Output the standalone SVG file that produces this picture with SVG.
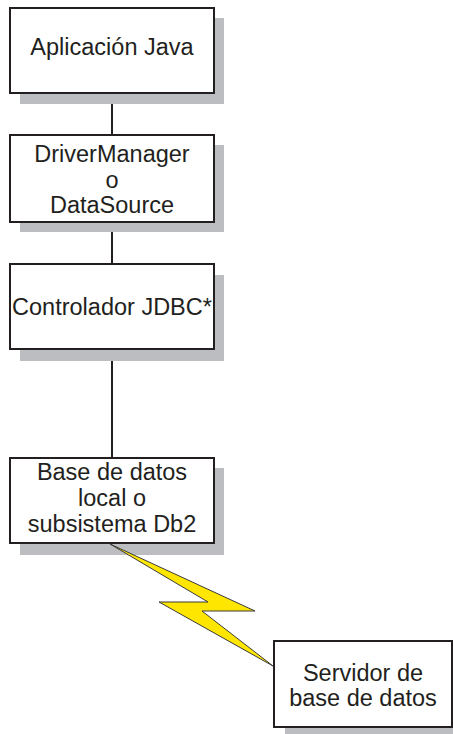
<svg xmlns="http://www.w3.org/2000/svg" width="453" height="734" viewBox="0 0 453 734">
<style>
.sh{fill:#bcbdc0;stroke:none}
.bx{fill:#fff;stroke:#231f20;stroke-width:2}
.t{font-family:"Liberation Sans",Arial,sans-serif;font-size:23.5px;fill:#231f20;text-anchor:middle}
.ln{stroke:#231f20;stroke-width:2;fill:none}
</style>
<rect width="453" height="734" fill="#fff"/>
<g id="connectors">
<line class="ln" x1="112" y1="93" x2="112" y2="135"/>
<line class="ln" x1="112" y1="222" x2="112" y2="264"/>
<line class="ln" x1="112" y1="349" x2="112" y2="458"/>
</g>
<g id="n1">
<rect class="sh" x="20" y="18" width="204" height="86"/>
<rect class="bx" x="10" y="8" width="204" height="85"/>
<text class="t" x="112" y="55">Aplicación Java</text>
</g>
<g id="n2">
<rect class="sh" x="20" y="145" width="204" height="87"/>
<rect class="bx" x="10" y="135" width="204" height="87"/>
<text class="t" x="112" y="162">DriverManager</text>
<text class="t" x="112" y="188">o</text>
<text class="t" x="112" y="213">DataSource</text>
</g>
<g id="n3">
<rect class="sh" x="20" y="275" width="204" height="86"/>
<rect class="bx" x="10" y="264" width="204" height="85"/>
<text class="t" x="112" y="315">Controlador JDBC*</text>
</g>
<g id="n4">
<rect class="sh" x="20" y="468" width="204" height="87"/>
<rect class="bx" x="10" y="458" width="204" height="85"/>
<text class="t" x="112" y="480">Base de datos</text>
<text class="t" x="112" y="506">local o</text>
<text class="t" x="112" y="532">subsistema Db2</text>
</g>
<g id="bolt">
<polygon points="110,544 255,611 202,611 273,666 159,602 208,602" fill="#ffe600" stroke="#3a3a3a" stroke-width="1" stroke-linejoin="miter"/>
</g>
<g id="n5">
<rect class="sh" x="285" y="652" width="178" height="90"/>
<rect class="bx" x="274" y="641" width="178" height="86"/>
<text class="t" x="363" y="681">Servidor de</text>
<text class="t" x="363" y="706">base de datos</text>
</g>
</svg>
